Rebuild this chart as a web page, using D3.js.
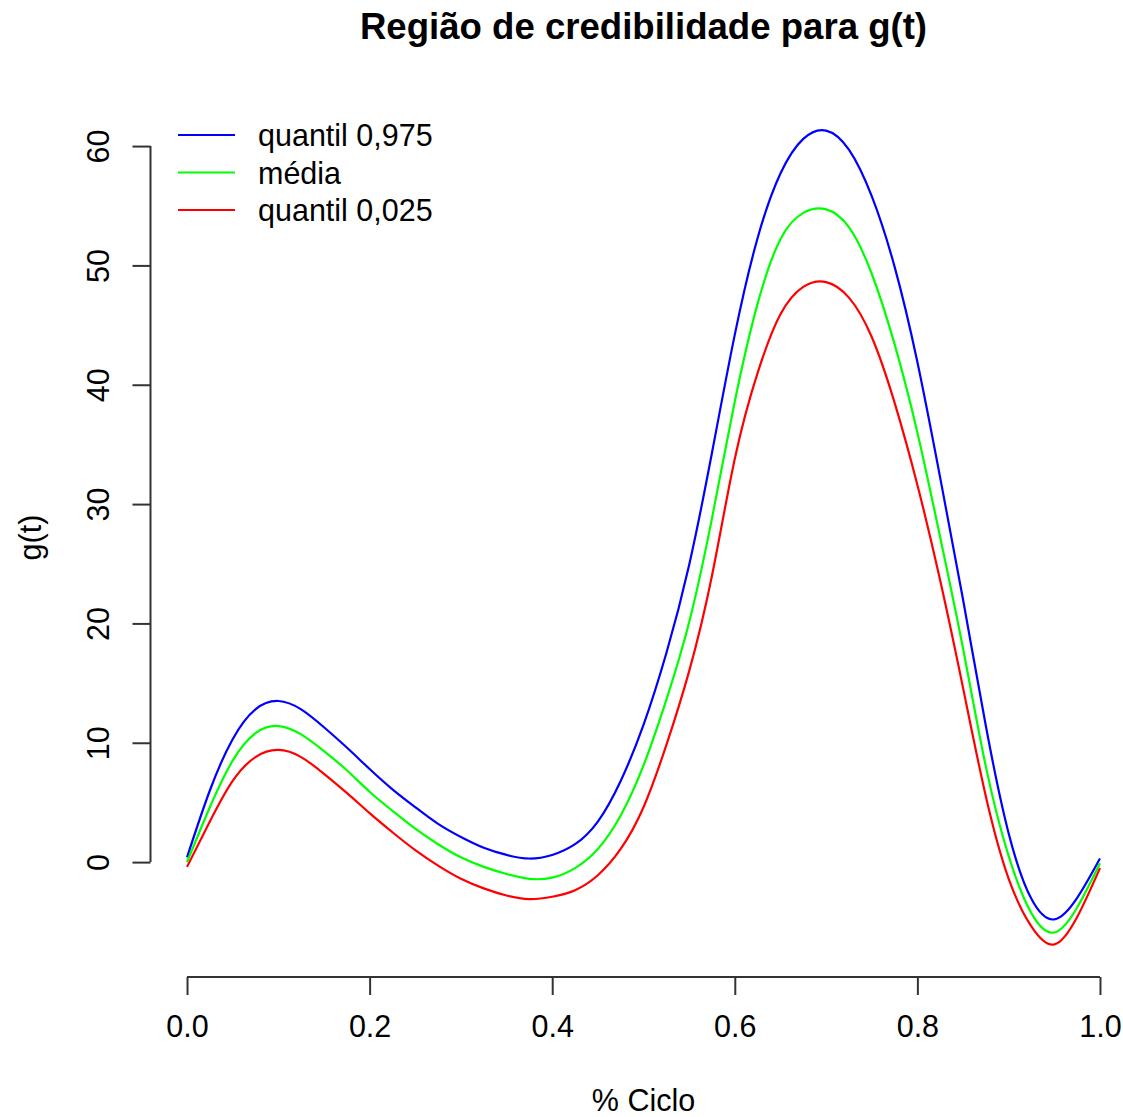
<!DOCTYPE html>
<html>
<head>
<meta charset="utf-8">
<script src="https://cdn.jsdelivr.net/npm/d3@7"></script>
<style>
  html, body { margin: 0; padding: 0; background: #fff; }
  svg text { font-family: "Liberation Sans", Arial, Helvetica, sans-serif; fill: #000; }
</style>
</head>
<body>
<svg id="chart" width="1123" height="1117"></svg>
<script>
// Proportion of the cycle at which the curves were evaluated
const cycle = [0.000, 0.025, 0.050, 0.075, 0.100, 0.125, 0.150, 0.175, 0.200, 0.225,
               0.250, 0.275, 0.300, 0.325, 0.350, 0.375, 0.400, 0.425, 0.450, 0.475,
               0.500, 0.525, 0.550, 0.575, 0.600, 0.625, 0.650, 0.675, 0.700, 0.725,
               0.750, 0.775, 0.800, 0.825, 0.850, 0.875, 0.900, 0.925, 0.950, 0.975, 1.000];

// Upper 97.5% quantile of g(t)
const upper = [0.4, 6.0, 10.3, 12.8, 13.5, 12.8, 11.3, 9.6, 7.8, 6.1,
               4.6, 3.2, 2.1, 1.2, 0.6, 0.3, 0.6, 1.5, 3.4, 6.8,
               11.5, 17.5, 24.9, 34.3, 44.2, 52.3, 57.7, 60.6, 61.3, 59.7,
               55.8, 49.9, 41.9, 32.2, 22.0, 11.4, 2.4, -3.1, -4.8, -3.0, 0.3];

// Posterior mean of g(t)
const mean = [0.0, 4.6, 8.5, 10.8, 11.4, 10.7, 9.3, 7.7, 5.9, 4.3,
              2.8, 1.5, 0.4, -0.4, -1.0, -1.4, -1.3, -0.5, 1.1, 3.9,
              8.1, 13.6, 20.1, 28.8, 38.6, 46.8, 52.2, 54.4, 54.7, 53.2,
              49.3, 43.4, 36.0, 27.2, 17.9, 8.0, 0.5, -4.3, -5.9, -3.8, -0.1];

// Lower 2.5% quantile of g(t)
const lower = [-0.4, 3.4, 6.8, 8.8, 9.4, 8.8, 7.4, 5.8, 4.1, 2.5,
               1.0, -0.3, -1.4, -2.2, -2.8, -3.1, -2.9, -2.35, -1.1, 1.1,
               4.6, 9.8, 16.0, 24.0, 33.8, 41.0, 45.9, 48.2, 48.6, 47.3,
               44.0, 38.5, 31.6, 23.6, 14.6, 5.5, -1.4, -5.4, -6.9, -4.6, -0.5];

const xTicks = [0.0, 0.2, 0.4, 0.6, 0.8, 1.0];
const yTicks = [0, 10, 20, 30, 40, 50, 60];

const seriesNames = ["quantil 0,975", "média", "quantil 0,025"];
const seriesColors = ["#0000ff", "#00ff00", "#ff0000"];
const seriesValues = [upper, mean, lower];

const titleText = "Região de credibilidade para g(t)";
const xLabel = "% Ciclo";
const yLabel = "g(t)";

// Plot region (base-graphics style, 4% padding on both axes)
const plot = { left: 150.5, right: 1136.5, top: 98, bottom: 977 };
const baseFont = 30.5;

const svg = d3.select("#chart");

const xExt = d3.extent(cycle);
const xPad = (xExt[1] - xExt[0]) * 0.04;
const x = d3.scaleLinear()
  .domain([xExt[0] - xPad, xExt[1] + xPad])
  .range([plot.left, plot.right]);

const allY = seriesValues.flat();
const yExt = d3.extent(allY);
const yPad = (yExt[1] - yExt[0]) * 0.04;
const y = d3.scaleLinear()
  .domain([yExt[0] - yPad, yExt[1] + yPad])
  .range([plot.bottom, plot.top]);

// Curves
const line = d3.line()
  .x((d, i) => x(cycle[i]))
  .y(d => y(d))
  .curve(d3.curveNatural);

svg.append("g")
  .selectAll("path")
  .data(seriesValues)
  .join("path")
  .attr("d", d => line(d))
  .attr("fill", "none")
  .attr("stroke", (d, i) => seriesColors[i])
  .attr("stroke-width", 2.2)
  .attr("stroke-linejoin", "round");

// X axis
const xAxis = d3.axisBottom(x)
  .tickValues(xTicks)
  .tickFormat(d3.format(".1f"))
  .tickSize(18)
  .tickSizeOuter(0)
  .tickPadding(20);

const gx = svg.append("g")
  .attr("transform", `translate(0,${plot.bottom})`)
  .call(xAxis);
gx.select(".domain").remove();
gx.append("line")
  .attr("x1", x(xTicks[0])).attr("x2", x(xTicks[xTicks.length - 1]))
  .attr("stroke", "#333").attr("stroke-width", 2);
gx.selectAll(".tick line").attr("stroke", "#333").attr("stroke-width", 2);
gx.selectAll(".tick text")
  .attr("font-size", baseFont)
  .attr("font-family", "Liberation Sans, Arial, sans-serif")
  .attr("fill", "#000");

// Y axis
const yAxis = d3.axisLeft(y)
  .tickValues(yTicks)
  .tickFormat(d3.format("d"))
  .tickSize(18)
  .tickSizeOuter(0);

const gy = svg.append("g")
  .attr("transform", `translate(${plot.left},0)`)
  .call(yAxis);
gy.select(".domain").remove();
gy.append("line")
  .attr("y1", y(yTicks[0])).attr("y2", y(yTicks[yTicks.length - 1]))
  .attr("stroke", "#333").attr("stroke-width", 2);
gy.selectAll(".tick line").attr("stroke", "#333").attr("stroke-width", 2);
gy.selectAll(".tick text")
  .attr("x", null).attr("dy", null)
  .attr("text-anchor", "middle")
  .attr("transform", "translate(-42,0) rotate(-90)")
  .attr("font-size", baseFont)
  .attr("font-family", "Liberation Sans, Arial, sans-serif")
  .attr("fill", "#000");

// Title and axis labels
const midX = (plot.left + plot.right) / 2;
const midY = (plot.top + plot.bottom) / 2;

svg.append("text")
  .attr("x", midX)
  .attr("y", 39)
  .attr("text-anchor", "middle")
  .attr("font-size", baseFont * 1.2)
  .attr("font-weight", "bold")
  .text(titleText);

svg.append("text")
  .attr("x", midX)
  .attr("y", 1111)
  .attr("text-anchor", "middle")
  .attr("font-size", baseFont)
  .text(xLabel);

svg.append("text")
  .attr("transform", `translate(41,${midY}) rotate(-90)`)
  .attr("text-anchor", "middle")
  .attr("font-size", baseFont)
  .text(yLabel);

// Legend
const legend = svg.append("g").attr("transform", "translate(178,135)");
const legendItems = legend.selectAll("g")
  .data(seriesNames)
  .join("g")
  .attr("transform", (d, i) => `translate(0,${i * 37.5})`);
legendItems.append("line")
  .attr("x1", 0).attr("x2", 57)
  .attr("stroke", (d, i) => seriesColors[i])
  .attr("stroke-width", 2.2);
legendItems.append("text")
  .attr("x", 80)
  .attr("y", 11)
  .attr("font-size", baseFont)
  .text(d => d);
</script>
</body>
</html>
